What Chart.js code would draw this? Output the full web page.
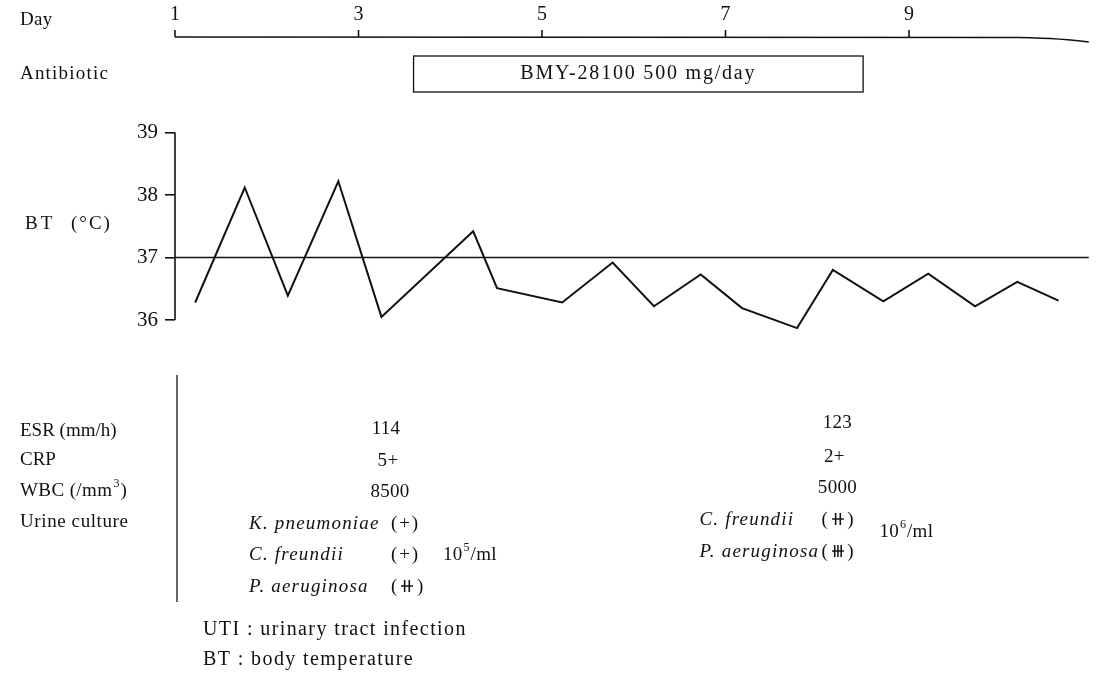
<!DOCTYPE html>
<html>
<head>
<meta charset="utf-8">
<script src="https://cdn.jsdelivr.net/npm/chart.js@4/dist/chart.umd.min.js"></script>
<style>
html,body{margin:0;padding:0;background:#fff;}
#wrap{width:1098px;height:673px;position:relative;}
</style>
</head>
<body>
<div id="wrap"><canvas id="c" width="1098" height="673"></canvas></div>
<script>
// ---- data ----
const dayTicks = [1, 3, 5, 7, 9];
const tempTicks = [36, 37, 38, 39];
const btDays = [1.22, 1.76, 2.23, 2.78, 3.25, 4.25, 4.51, 5.22, 5.77, 6.22, 6.73, 7.18, 7.78, 8.17, 8.72, 9.21, 9.72, 10.18, 10.63];
const btValues = [36.28, 38.12, 36.39, 38.22, 36.05, 37.42, 36.51, 36.28, 36.92, 36.22, 36.73, 36.19, 35.87, 36.80, 36.30, 36.74, 36.22, 36.61, 36.31];
const normalTemp = 37;
const normalDays = [1, 10.96];
const antibioticName = 'BMY-28100 500 mg/day';
const antibioticDays = [3.6, 8.5];
const labRowLabels = ['ESR (mm/h)', 'CRP', 'WBC (/mm³)', 'Urine culture'];
const labDays = [3.3, 8.22];
const esrValues = ['114', '123'];
const crpValues = ['5+', '2+'];
const wbcValues = ['8500', '5000'];
const culture1Species = ['K. pneumoniae', 'C. freundii', 'P. aeruginosa'];
const culture1Grade = ['(+)', '(+)', '(⧺)'];
const culture1Exp = '5';
const culture2Species = ['C. freundii', 'P. aeruginosa'];
const culture2Grade = ['(⧺)', '(⧻)'];
const culture2Exp = '6';
const footnotes = ['UTI : urinary tract infection', 'BT : body temperature'];

const SERIF = '"Liberation Serif", "DejaVu Serif", serif';
const INK = '#111';

function txt(ctx, s, x, y, opts) {
  opts = opts || {};
  ctx.save();
  ctx.font = (opts.italic ? 'italic ' : '') + (opts.size || 19) + 'px ' + SERIF;
  ctx.fillStyle = INK;
  ctx.textAlign = opts.align || 'left';
  ctx.textBaseline = 'middle';
  if ('letterSpacing' in ctx) ctx.letterSpacing = (opts.ls != null ? opts.ls : 0.3) + 'px';
  ctx.fillText(s, x, y);
  const w = ctx.measureText(s).width;
  ctx.restore();
  return w;
}

function powerText(ctx, exp, x, y) {
  let w = txt(ctx, '10', x, y, {size: 19});
  ctx.save();
  ctx.font = '12px ' + SERIF; ctx.fillStyle = INK; ctx.textBaseline = 'middle';
  ctx.fillText(exp, x + w + 1, y - 7);
  const ew = ctx.measureText(exp).width;
  ctx.restore();
  txt(ctx, '/ml', x + w + ew + 2, y, {size: 19});
}

const decor = {
  id: 'decor',
  afterDraw(chart) {
    const ctx = chart.ctx;
    const xs = chart.scales.x, ys = chart.scales.y;
    const X = v => xs.getPixelForValue(v);
    const Y = v => ys.getPixelForValue(v);
    ctx.save();
    ctx.strokeStyle = INK;
    ctx.lineWidth = 1.6;

    // Day axis at top
    const dayY = 37;
    txt(ctx, 'Day', 20, 20, {size: 19});
    ctx.beginPath();
    ctx.moveTo(X(1), dayY);
    ctx.lineTo(X(10.2), dayY + 0.5);
    ctx.quadraticCurveTo(X(10.7), dayY + 1.5, X(10.96), dayY + 5);
    ctx.stroke();
    dayTicks.forEach(d => {
      ctx.beginPath();
      ctx.moveTo(X(d), dayY);
      ctx.lineTo(X(d), dayY - 7);
      ctx.stroke();
      txt(ctx, String(d), X(d), 15, {size: 20, align: 'center', ls: 0});
    });

    // Antibiotic box
    txt(ctx, 'Antibiotic', 20, 74, {size: 19, ls: 1.2});
    const bx0 = X(antibioticDays[0]), bx1 = X(antibioticDays[1]);
    ctx.lineWidth = 1.3;
    ctx.strokeRect(bx0, 56, bx1 - bx0, 36);
    txt(ctx, antibioticName, (bx0 + bx1) / 2, 74, {size: 20, align: 'center', ls: 1.8});

    // BT label
    txt(ctx, 'BT', 25, 224, {size: 19, ls: 3});
    txt(ctx, '(°C)', 71, 224, {size: 19, ls: 2});

    // y axis line from 36 to 39
    ctx.lineWidth = 1.6;
    ctx.beginPath();
    ctx.moveTo(xs.left, Y(tempTicks[0]));
    ctx.lineTo(xs.left, Y(tempTicks[tempTicks.length - 1]));
    ctx.stroke();

    // lab section
    const sepX = xs.left + 2;
    ctx.lineWidth = 1.3;
    ctx.beginPath();
    ctx.moveTo(sepX, 375);
    ctx.lineTo(sepX, 602);
    ctx.stroke();

    const rowY = [431, 460, 491, 522];
    labRowLabels.forEach((l, i) => {
      if (i === 2) {
        const w = txt(ctx, 'WBC (/mm', 20, rowY[i], {size: 19, ls: 0.4});
        ctx.save(); ctx.font = '12px ' + SERIF; ctx.fillStyle = INK; ctx.textBaseline = 'middle';
        ctx.fillText('3', 20 + w + 1, rowY[i] - 7);
        ctx.restore();
        txt(ctx, ')', 20 + w + 8, rowY[i], {size: 19});
      } else {
        txt(ctx, l, 20, rowY[i], {size: 19, ls: i === 3 ? 0.6 : 0});
      }
    });

    // column 1
    const c1 = X(labDays[0]);
    txt(ctx, esrValues[0], c1, 429, {size: 19, align: 'center'});
    txt(ctx, crpValues[0], c1 + 2, 461, {size: 19, align: 'center'});
    txt(ctx, wbcValues[0], c1 + 4, 492, {size: 19, align: 'center'});
    const cy1 = [524, 555, 587];
    culture1Species.forEach((s, i) => {
      txt(ctx, s, c1 - 137, cy1[i], {size: 19, italic: true, ls: 1.2});
      txt(ctx, culture1Grade[i], c1 + 5, cy1[i], {size: 19, ls: 1.8});
    });
    powerText(ctx, culture1Exp, c1 + 57, 555);

    // column 2
    const c2 = X(labDays[1]);
    txt(ctx, esrValues[1], c2, 423, {size: 19, align: 'center'});
    txt(ctx, crpValues[1], c2 - 3, 457, {size: 19, align: 'center'});
    txt(ctx, wbcValues[1], c2, 488, {size: 19, align: 'center'});
    const cy2 = [520, 552];
    culture2Species.forEach((s, i) => {
      txt(ctx, s, c2 - 138, cy2[i], {size: 19, italic: true, ls: 1.2});
      txt(ctx, culture2Grade[i], c2 - 16, cy2[i], {size: 19, ls: 1.8});
    });
    powerText(ctx, culture2Exp, c2 + 42, 532);

    // footnotes
    txt(ctx, footnotes[0], 203, 630, {size: 20, ls: 1.4});
    txt(ctx, footnotes[1], 203, 660, {size: 20, ls: 1.4});

    ctx.restore();
  }
};

new Chart(document.getElementById('c'), {
  type: 'line',
  data: {
    datasets: [
      {
        label: 'BT',
        data: btDays.map((d, i) => ({x: d, y: btValues[i]})),
        borderColor: INK,
        borderWidth: 2,
        pointRadius: 0,
        tension: 0,
        borderJoinStyle: 'miter',
        fill: false
      },
      {
        label: 'normal',
        data: normalDays.map(d => ({x: d, y: normalTemp})),
        borderColor: INK,
        borderWidth: 1.6,
        pointRadius: 0,
        tension: 0,
        fill: false
      }
    ]
  },
  options: {
    responsive: false,
    animation: false,
    devicePixelRatio: 1,
    layout: {padding: {left: 135, right: 5.5, top: 132.5, bottom: 321.75}},
    plugins: {legend: {display: false}, tooltip: {enabled: false}},
    scales: {
      x: {type: 'linear', min: 1, max: 11, display: false},
      y: {
        type: 'linear', min: 35.5, max: 39,
        afterFit: s => { s.width = 40; },
        afterBuildTicks: axis => { axis.ticks = tempTicks.map(v => ({value: v})); },
        border: {display: false},
        grid: {drawOnChartArea: false, drawTicks: true, tickLength: 10, color: INK, lineWidth: 1.6},
        ticks: {color: INK, padding: 7, font: {family: SERIF, size: 21}, callback: v => String(v)}
      }
    }
  },
  plugins: [decor]
});
</script>
</body>
</html>
